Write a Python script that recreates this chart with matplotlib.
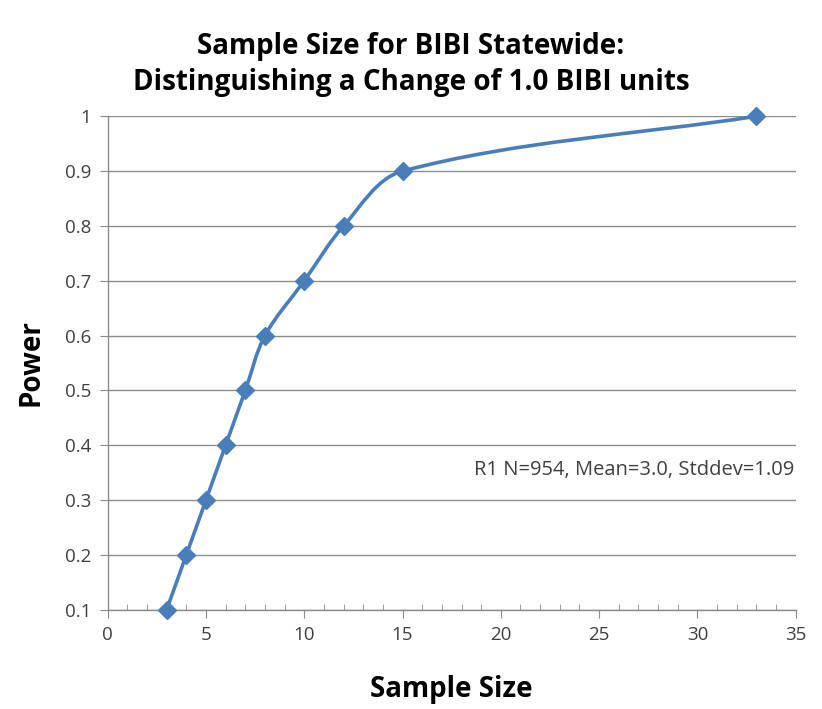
import matplotlib
matplotlib.use("Agg")
import matplotlib.pyplot as plt
import numpy as np
from matplotlib.path import Path
from matplotlib.patches import PathPatch
from matplotlib.ticker import MultipleLocator

plt.rcParams["font.family"] = ["Open Sans", "DejaVu Sans"]

LINE_COLOR = "#4A7EBB"
TEXT_COLOR = "#404040"
GRID_COLOR = "#8C8C8C"

# data
sample_size = [3, 4, 5, 6, 7, 8, 10, 12, 15, 33]
power = [0.1, 0.2, 0.3, 0.4, 0.5, 0.6, 0.7, 0.8, 0.9, 1.0]
note = "R1 N=954, Mean=3.0, Stddev=1.09"

X_MAX = 35
Y_MIN, Y_MAX = 0.1, 1.0


def smooth_path(xs, ys, sx, sy):
    # Excel-like smoothed line: cubic Bezier through every point,
    # tangents worked out in screen-like units (sx, sy px per data unit)
    p = np.column_stack([np.asarray(xs, float) * sx, np.asarray(ys, float) * sy])
    n = len(p)
    tang = []
    for i in range(n):
        a = p[i - 1] if i > 0 else p[i]
        b = p[i + 1] if i + 1 < n else p[i]
        d = b - a
        tang.append(d / np.hypot(*d))
    verts = [p[0]]
    codes = [Path.MOVETO]
    for i in range(n - 1):
        seg = np.hypot(*(p[i + 1] - p[i])) / 3.0
        verts += [p[i] + tang[i] * seg, p[i + 1] - tang[i + 1] * seg, p[i + 1]]
        codes += [Path.CURVE4] * 3
    v = np.array(verts)
    v[:, 0] /= sx
    v[:, 1] /= sy
    return Path(v, codes)


fig = plt.figure(figsize=(8.22, 7.09), dpi=100)
ax = fig.add_axes([0.131, 0.140, 0.837, 0.696])

ax.set_xlim(0, X_MAX)
ax.set_ylim(Y_MIN, Y_MAX)
ax.xaxis.set_major_locator(MultipleLocator(5))
ax.xaxis.set_minor_locator(MultipleLocator(1))
ax.set_yticks(np.round(np.arange(0.1, 1.01, 0.1), 1))
ax.set_yticklabels(["0.1", "0.2", "0.3", "0.4", "0.5", "0.6", "0.7", "0.8", "0.9", "1"])

ax.grid(axis="y", color=GRID_COLOR, linewidth=1.0, zorder=0)
for s in ["top", "right"]:
    ax.spines[s].set_visible(False)
for s in ["left", "bottom"]:
    ax.spines[s].set_color(GRID_COLOR)
    ax.spines[s].set_linewidth(1.0)

ax.tick_params(axis="both", which="major", direction="out", length=6,
               color=GRID_COLOR, labelsize=13.5, labelcolor=TEXT_COLOR, pad=6)
ax.tick_params(axis="x", which="minor", direction="in", length=4, color=GRID_COLOR)

bbox = ax.get_position()
px_x = bbox.width * 822 / X_MAX
px_y = bbox.height * 709 / (Y_MAX - Y_MIN)
patch = PathPatch(smooth_path(sample_size, power, px_x, px_y), facecolor="none",
                  edgecolor=LINE_COLOR, linewidth=2.6, zorder=3,
                  capstyle="round", joinstyle="round")
ax.add_patch(patch)
ax.plot(sample_size, power, linestyle="none", marker="D", markersize=9.5,
        color=LINE_COLOR, zorder=4, clip_on=False)

ax.text(0.998, 0.283, note, transform=ax.transAxes, ha="right", va="center",
        fontsize=14.5, color=TEXT_COLOR)

ax.set_xlabel("Sample Size", fontsize=20, fontweight="bold", color="black", labelpad=22)
ax.set_ylabel("Power", fontsize=20, fontweight="bold", color="black", labelpad=14)
fig.text(0.5, 0.955, "Sample Size for BIBI Statewide:\nDistinguishing a Change of 1.0 BIBI units",
         ha="center", va="top", fontsize=20, fontweight="bold", linespacing=1.3)

fig.savefig("out.png", dpi=100)
